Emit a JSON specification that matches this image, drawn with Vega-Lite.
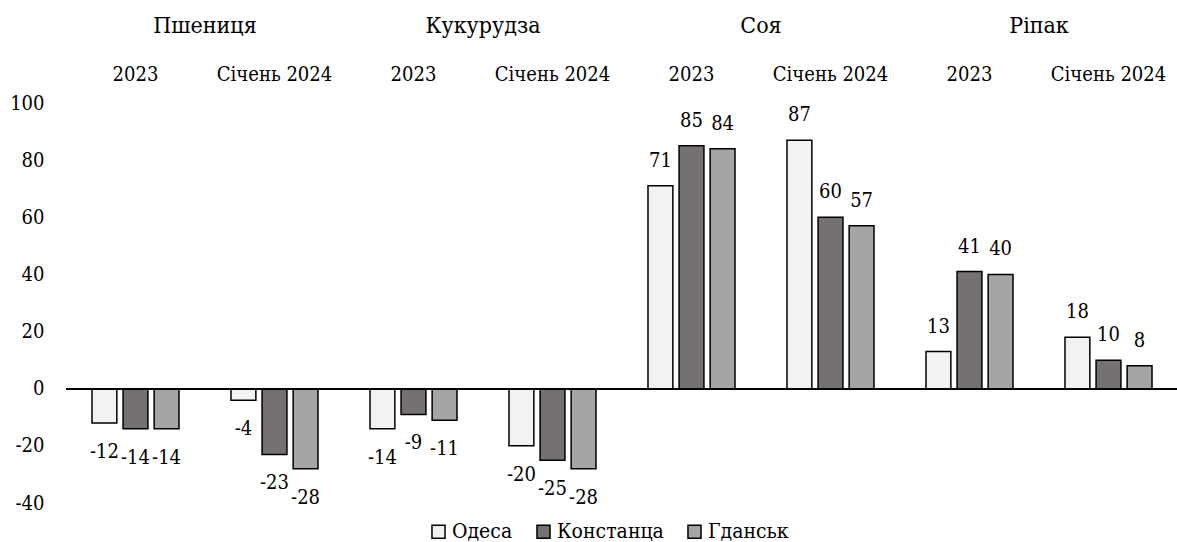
{
  "$schema": "https://vega.github.io/schema/vega-lite/v6.json",
  "padding": {"left": 9, "top": 15, "right": 0, "bottom": 0},
  "background": "white",
  "data": {"values": [
    {"crop": "Пшениця", "period": "2023", "city": "Одеса", "value": -12},
    {"crop": "Пшениця", "period": "2023", "city": "Констанца", "value": -14},
    {"crop": "Пшениця", "period": "2023", "city": "Гданськ", "value": -14},
    {"crop": "Пшениця", "period": "Січень 2024", "city": "Одеса", "value": -4},
    {"crop": "Пшениця", "period": "Січень 2024", "city": "Констанца", "value": -23},
    {"crop": "Пшениця", "period": "Січень 2024", "city": "Гданськ", "value": -28},
    {"crop": "Кукурудза", "period": "2023", "city": "Одеса", "value": -14},
    {"crop": "Кукурудза", "period": "2023", "city": "Констанца", "value": -9},
    {"crop": "Кукурудза", "period": "2023", "city": "Гданськ", "value": -11},
    {"crop": "Кукурудза", "period": "Січень 2024", "city": "Одеса", "value": -20},
    {"crop": "Кукурудза", "period": "Січень 2024", "city": "Констанца", "value": -25},
    {"crop": "Кукурудза", "period": "Січень 2024", "city": "Гданськ", "value": -28},
    {"crop": "Соя", "period": "2023", "city": "Одеса", "value": 71},
    {"crop": "Соя", "period": "2023", "city": "Констанца", "value": 85},
    {"crop": "Соя", "period": "2023", "city": "Гданськ", "value": 84},
    {"crop": "Соя", "period": "Січень 2024", "city": "Одеса", "value": 87},
    {"crop": "Соя", "period": "Січень 2024", "city": "Констанца", "value": 60},
    {"crop": "Соя", "period": "Січень 2024", "city": "Гданськ", "value": 57},
    {"crop": "Ріпак", "period": "2023", "city": "Одеса", "value": 13},
    {"crop": "Ріпак", "period": "2023", "city": "Констанца", "value": 41},
    {"crop": "Ріпак", "period": "2023", "city": "Гданськ", "value": 40},
    {"crop": "Ріпак", "period": "Січень 2024", "city": "Одеса", "value": 18},
    {"crop": "Ріпак", "period": "Січень 2024", "city": "Констанца", "value": 10},
    {"crop": "Ріпак", "period": "Січень 2024", "city": "Гданськ", "value": 8}
  ]},
  "facet": {
    "column": {
      "field": "crop", "type": "nominal",
      "sort": ["Пшениця", "Кукурудза", "Соя", "Ріпак"],
      "header": {"title": null, "labelFontSize": 23, "labelFont": "DejaVu Serif Condensed, DejaVu Serif", "labelColor": "black", "labelPadding": 26}
    }
  },
  "spacing": {"column": 0},
  "spec": {
    "width": 278,
    "height": 400,
    "encoding": {
      "x": {
        "field": "period", "type": "nominal", "sort": ["2023", "Січень 2024"],
        "scale": {"paddingInner": 0.374, "paddingOuter": 0.187},
        "axis": {"orient": "top", "title": null, "domain": false, "ticks": false, "labelAngle": 0, "labelFontSize": 20, "labelFont": "DejaVu Serif Condensed, DejaVu Serif", "labelColor": "black", "labelPadding": 19}
      },
      "xOffset": {
        "field": "city", "type": "nominal", "sort": ["Одеса", "Констанца", "Гданськ"],
        "scale": {"paddingInner": 0.2, "paddingOuter": 0}
      },
      "y": {
        "field": "value", "type": "quantitative",
        "scale": {"domain": [-40, 100], "nice": false},
        "axis": {"title": null, "domain": false, "ticks": false, "grid": false, "values": [-40, -20, 0, 20, 40, 60, 80, 100], "labelExpr": "'' + datum.value", "labelFontSize": 20, "labelFont": "DejaVu Serif Condensed, DejaVu Serif", "labelColor": "black", "labelPadding": 22}
      }
    },
    "layer": [
      {
        "mark": {"type": "bar", "stroke": "black", "strokeWidth": 1.5},
        "encoding": {
          "color": {
            "field": "city", "type": "nominal",
            "scale": {"domain": ["Одеса", "Констанца", "Гданськ"], "range": ["#f2f2f2", "#767171", "#a5a5a5"]},
            "legend": {"title": null, "orient": "none", "legendX": 362, "legendY": 418, "direction": "horizontal", "symbolType": "square", "symbolSize": 170, "symbolStrokeColor": "black", "symbolStrokeWidth": 1.5, "symbolOpacity": 1, "labelFontSize": 21, "labelFont": "DejaVu Serif Condensed, DejaVu Serif", "labelColor": "black", "labelOffset": 3, "columnPadding": 20}
          }
        }
      },
      {
        "mark": {"type": "rule", "color": "black", "strokeWidth": 1.5, "strokeCap": "square", "clip": true},
        "encoding": {"y": {"datum": 0, "type": "quantitative"}, "x": null, "xOffset": null}
      },
      {
        "transform": [{"filter": "datum.value >= 0"}],
        "mark": {"type": "text", "fontSize": 20, "font": "DejaVu Serif Condensed, DejaVu Serif", "color": "black", "baseline": "middle", "dy": -25},
        "encoding": {"text": {"field": "value", "type": "nominal"}}
      },
      {
        "transform": [{"filter": "datum.value < 0"}],
        "mark": {"type": "text", "fontSize": 20, "font": "DejaVu Serif Condensed, DejaVu Serif", "color": "black", "baseline": "middle", "dy": 29},
        "encoding": {"text": {"field": "value", "type": "nominal"}}
      }
    ]
  },
  "config": {"view": {"stroke": null}}
}
